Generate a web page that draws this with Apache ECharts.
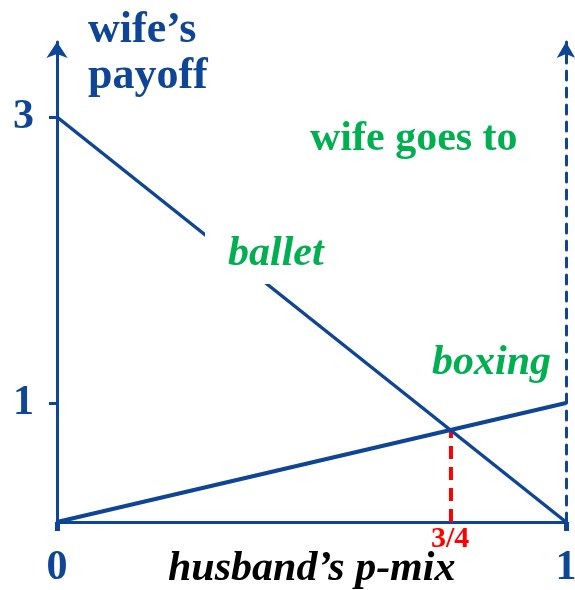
<!DOCTYPE html>
<html lang="en">
	<head>
		<meta charset="UTF-8">
		<title>wife's payoff</title>
		<script src="https://cdn.jsdelivr.net/npm/echarts@6/dist/echarts.min.js"></script>
		<style type="text/css">
			html, body {
				margin: 0;
				padding: 0;
				background-color: #ffffff;
			}
			#chart {
				width: 575px;
				height: 590px;
			}
		</style>
	</head>
	<body>
		<div id="chart"></div>
	</body>
	<script type="text/javascript">
		// husband's p-mix (x)
		var pMix = [0, 1];
		// wife's payoff when she goes to ballet / boxing
		var balletPayoff = [3, 0];
		var boxingPayoff = [0, 1];
		// where the red dashed line stands, as drawn (labelled 3/4)
		var crossP = 0.774;
		var crossPayoff = 0.774;
		var xTicks = [0, 1];

		var blue = '#0e4596';
		var green = '#00b050';
		var serif = '"Liberation Serif", "DejaVu Serif", serif';

		var chart = echarts.init(document.getElementById('chart'));

		var option = {
			animation: false,
			grid: {
				left: 57,
				right: 9,
				top: 42,
				bottom: 68,
				outerBoundsMode: 'none',
				containLabel: false
			},
			xAxis: {
				type: 'value',
				min: 0,
				max: 1,
				interval: 1,
				splitLine: { show: false },
				axisLine: { lineStyle: { color: blue, width: 3 } },
				axisTick: { length: 9, lineStyle: { color: blue, width: 5 } },
				axisLabel: {
					customValues: xTicks,
					margin: 25,
					color: blue,
					fontFamily: serif,
					fontWeight: 'bold',
					fontSize: 42
				}
			},
			yAxis: [
				{
					// scale of the ballet line, tick "3"
					type: 'value',
					min: 0,
					max: 480 / 135,
					splitLine: { show: false },
					axisLine: {
						show: true,
						symbol: ['none', 'arrow'],
						symbolSize: [16, 16],
						lineStyle: { color: blue, width: 3 }
					},
					axisTick: { customValues: [3], length: 8, lineStyle: { color: blue, width: 3 } },
					axisLabel: {
						customValues: [3],
						margin: 23,
						color: blue,
						fontFamily: serif,
						fontWeight: 'bold',
						fontSize: 42
					}
				},
				{
					// scale of the boxing line, tick "1"
					type: 'value',
					position: 'left',
					min: 0,
					max: 480 / 119,
					splitLine: { show: false },
					axisLine: { show: false },
					axisTick: { customValues: [1], length: 8, lineStyle: { color: blue, width: 3 } },
					axisLabel: {
						customValues: [1],
						margin: 23,
						color: blue,
						fontFamily: serif,
						fontWeight: 'bold',
						fontSize: 42
					}
				},
				{
					// dashed line at p = 1
					type: 'value',
					position: 'right',
					min: 0,
					max: 1,
					splitLine: { show: false },
					axisTick: { show: false },
					axisLabel: { show: false },
					axisLine: {
						show: true,
						symbol: ['none', 'arrow'],
						symbolSize: [14, 16],
						lineStyle: { color: blue, width: 3, type: [9, 8] }
					}
				}
			],
			series: [
				{
					name: 'ballet',
					type: 'line',
					yAxisIndex: 0,
					symbol: 'none',
					lineStyle: { color: blue, width: 3.5 },
					data: pMix.map(function (p, i) { return [p, balletPayoff[i]]; })
				},
				{
					name: 'boxing',
					type: 'line',
					yAxisIndex: 1,
					symbol: 'none',
					lineStyle: { color: blue, width: 4 },
					data: pMix.map(function (p, i) { return [p, boxingPayoff[i]]; })
				},
				{
					name: 'mix',
					type: 'line',
					yAxisIndex: 1,
					symbol: 'none',
					z: 1,
					lineStyle: { color: '#ff0000', width: 4, type: [13, 8] },
					data: [[crossP, 0], [crossP, crossPayoff]]
				}
			],
			graphic: [
				// white patch behind "ballet"
				{ type: 'rect', z: 50, shape: { x: 205, y: 232, width: 125, height: 52 }, style: { fill: '#ffffff' } },
				{ type: 'text', z: 60, left: 88, top: 9, style: { text: 'wife\u2019s', fill: blue, font: 'bold 44px ' + serif } },
				{ type: 'text', z: 60, left: 88, top: 55, style: { text: 'payoff', fill: blue, font: 'bold 44px ' + serif } },
				{ type: 'text', z: 60, left: 310, top: 118, style: { text: 'wife goes to', fill: green, font: 'bold 42px ' + serif } },
				{ type: 'text', z: 60, left: 228, top: 233, style: { text: 'ballet', fill: green, font: 'italic bold 42px ' + serif } },
				{ type: 'text', z: 60, left: 432, top: 342, style: { text: 'boxing', fill: green, font: 'italic bold 42px ' + serif } },
				{ type: 'text', z: 60, left: 168, top: 548, style: { text: 'husband\u2019s p-mix', fill: '#000000', font: 'italic bold 42px ' + serif } },
				{ type: 'text', z: 60, left: 431, top: 524, style: { text: '3/4', fill: '#ff0000', font: 'bold 30px ' + serif } }
			]
		};
		chart.setOption(option);
	</script>
</html>
